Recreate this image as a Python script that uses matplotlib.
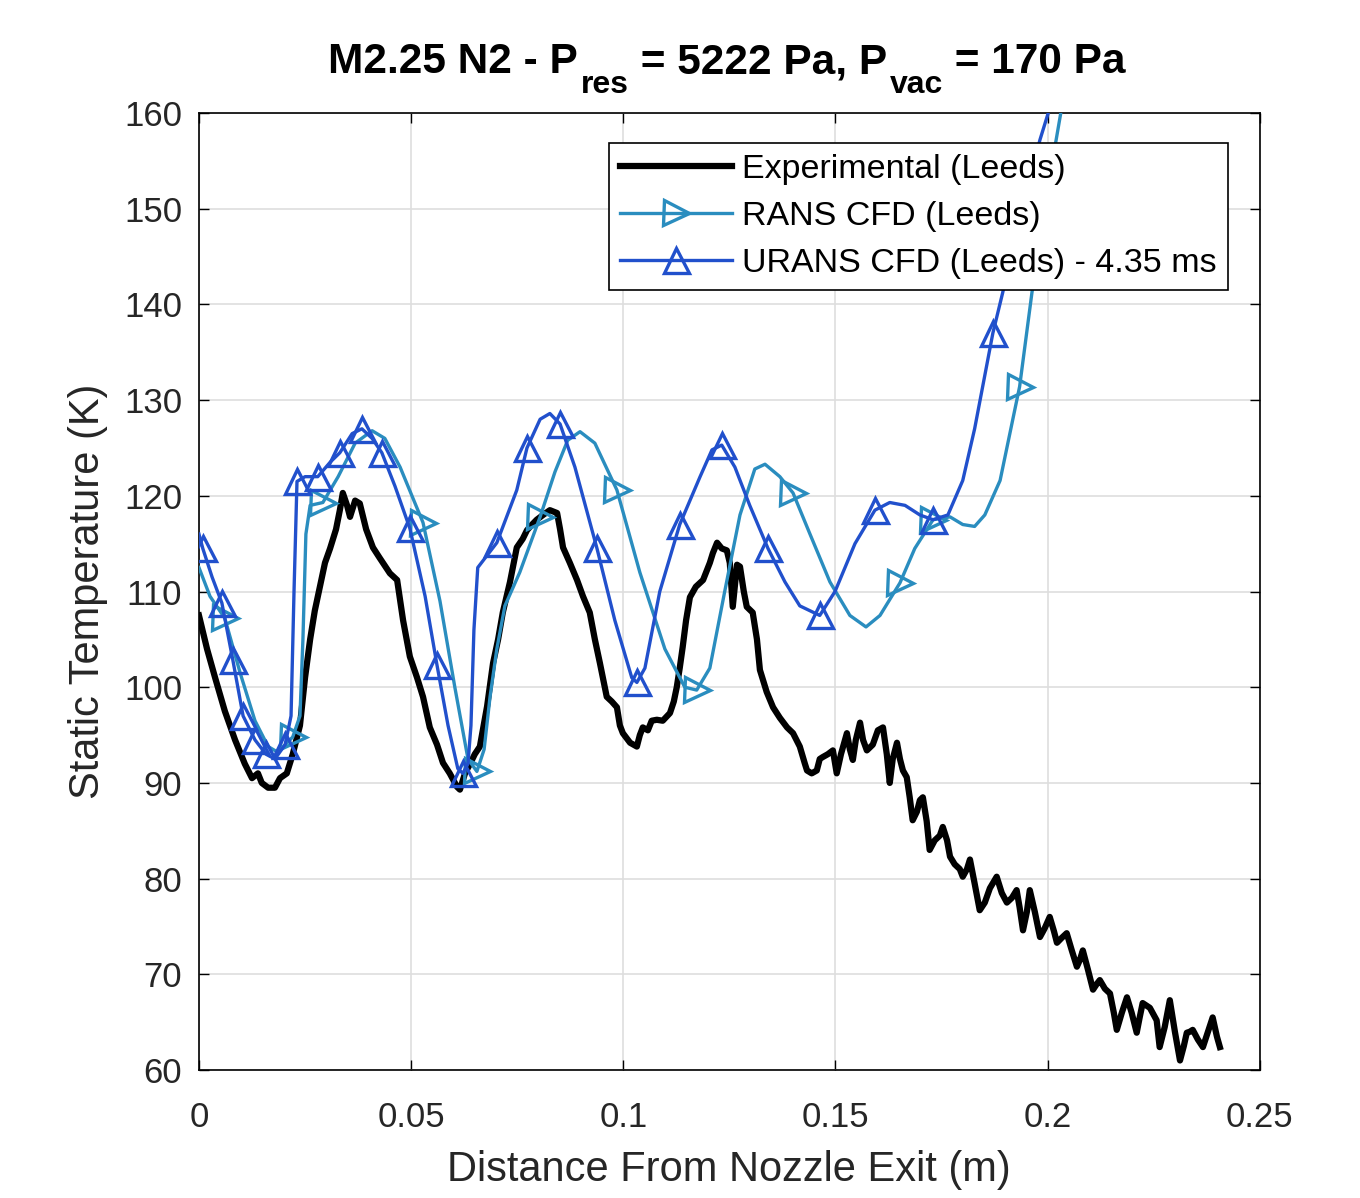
import matplotlib
matplotlib.use("Agg")
import matplotlib.pyplot as plt
from matplotlib.ticker import FuncFormatter

plt.rcParams['font.family'] = ['Liberation Sans', 'DejaVu Sans']

# experimental static temperature (Leeds)
exp_x = [0.0000, 0.0019, 0.0038, 0.0061, 0.0085, 0.0108, 0.0125, 0.0139, 0.0148, 0.0163,
         0.0179, 0.0191, 0.0207, 0.0221, 0.0238, 0.0250, 0.0262, 0.0273, 0.0285, 0.0297,
         0.0309, 0.0323, 0.0332, 0.0339, 0.0349, 0.0356, 0.0368, 0.0379, 0.0394, 0.0410,
         0.0426, 0.0450, 0.0467, 0.0481, 0.0497, 0.0514, 0.0528, 0.0544, 0.0561, 0.0575,
         0.0591, 0.0608, 0.0615, 0.0627, 0.0639, 0.0650, 0.0662, 0.0679, 0.0693, 0.0705,
         0.0716, 0.0733, 0.0749, 0.0763, 0.0773, 0.0785, 0.0796, 0.0811, 0.0827, 0.0844,
         0.0851, 0.0858, 0.0874, 0.0891, 0.0905, 0.0921, 0.0933, 0.0945, 0.0954, 0.0961,
         0.0973, 0.0985, 0.0992, 0.0999, 0.1016, 0.1032, 0.1039, 0.1046, 0.1058, 0.1067,
         0.1079, 0.1093, 0.1110, 0.1119, 0.1126, 0.1133, 0.1140, 0.1148, 0.1157, 0.1171,
         0.1188, 0.1195, 0.1204, 0.1211, 0.1221, 0.1232, 0.1244, 0.1251, 0.1258, 0.1268,
         0.1275, 0.1284, 0.1291, 0.1305, 0.1315, 0.1322, 0.1338, 0.1353, 0.1369, 0.1386,
         0.1400, 0.1416, 0.1428, 0.1433, 0.1444, 0.1456, 0.1463, 0.1470, 0.1482, 0.1494,
         0.1503, 0.1513, 0.1527, 0.1534, 0.1541, 0.1548, 0.1558, 0.1565, 0.1574, 0.1588,
         0.1600, 0.1612, 0.1621, 0.1628, 0.1635, 0.1645, 0.1652, 0.1659, 0.1668, 0.1675,
         0.1682, 0.1692, 0.1699, 0.1706, 0.1715, 0.1722, 0.1734, 0.1746, 0.1753, 0.1763,
         0.1770, 0.1781, 0.1793, 0.1800, 0.1810, 0.1817, 0.1828, 0.1840, 0.1852, 0.1864,
         0.1880, 0.1892, 0.1904, 0.1916, 0.1927, 0.1934, 0.1942, 0.1951, 0.1958, 0.1970,
         0.1982, 0.1993, 0.2005, 0.2015, 0.2022, 0.2033, 0.2045, 0.2057, 0.2069, 0.2076,
         0.2083, 0.2095, 0.2107, 0.2116, 0.2123, 0.2135, 0.2147, 0.2156, 0.2163, 0.2175,
         0.2187, 0.2198, 0.2210, 0.2217, 0.2224, 0.2241, 0.2257, 0.2264, 0.2276, 0.2288,
         0.2300, 0.2312, 0.2321, 0.2328, 0.2335, 0.2342, 0.2354, 0.2366, 0.2378, 0.2389,
         0.2399, 0.2406]
exp_t = [107.5, 104.0, 101.0, 97.5, 94.5, 92.0, 90.5, 91.0, 90.0, 89.5,
         89.5, 90.5, 91.0, 93.0, 96.0, 101.0, 105.0, 108.0, 110.5, 113.0,
         114.5, 116.5, 118.5, 120.3, 119.0, 117.8, 119.5, 119.2, 116.5, 114.6,
         113.5, 111.9, 111.2, 107.0, 103.2, 101.0, 99.0, 95.8, 94.0, 92.1,
         91.0, 89.6, 89.3, 91.0, 92.0, 93.0, 93.8, 98.0, 102.5, 105.0,
         107.8, 111.0, 114.6, 115.5, 116.4, 117.0, 117.5, 118.0, 118.5, 118.2,
         116.5, 114.6, 113.0, 111.2, 109.5, 107.8, 105.0, 102.5, 100.5, 99.0,
         98.5, 97.9, 96.0, 95.2, 94.2, 93.8, 95.0, 95.8, 95.5, 96.5,
         96.6, 96.5, 97.3, 98.5, 100.0, 102.0, 104.2, 107.0, 109.4, 110.5,
         111.2, 112.0, 113.0, 114.0, 115.1, 114.5, 114.3, 113.0, 108.4, 112.8,
         112.6, 110.0, 108.4, 107.8, 105.0, 101.8, 99.5, 97.9, 96.8, 95.8,
         95.2, 93.8, 92.0, 91.3, 91.0, 91.3, 92.5, 92.7, 93.0, 93.4,
         91.0, 93.0, 95.2, 93.5, 92.4, 94.5, 96.3, 94.5, 93.4, 94.0,
         95.5, 95.8, 93.0, 90.0, 92.5, 94.2, 92.5, 91.3, 90.6, 88.5,
         86.1, 87.0, 88.2, 88.5, 86.0, 83.0, 84.0, 84.5, 85.4, 84.0,
         82.3, 81.5, 81.0, 80.2, 81.0, 82.0, 79.5, 76.7, 77.5, 79.0,
         80.2, 78.5, 77.5, 78.0, 78.8, 77.0, 74.6, 76.5, 78.8, 76.5,
         73.9, 74.8, 76.0, 74.5, 73.3, 73.8, 74.3, 72.5, 70.8, 71.5,
         72.5, 70.5, 68.4, 69.0, 69.4, 68.5, 68.0, 66.0, 64.2, 66.0,
         67.6, 66.0, 63.9, 65.5, 67.0, 66.5, 65.2, 62.4, 64.5, 67.3,
         64.0, 61.0, 62.5, 63.9, 64.0, 64.2, 63.2, 62.4, 64.0, 65.5,
         63.5, 62.4]

# RANS CFD (Leeds)
rans_x = [0.0000, 0.0026, 0.0061, 0.0097, 0.0132, 0.0163, 0.0186, 0.0221, 0.0238, 0.0245,
          0.0252, 0.0262, 0.0292, 0.0328, 0.0368, 0.0408, 0.0438, 0.0474, 0.0528, 0.0568,
          0.0603, 0.0634, 0.0655, 0.0672, 0.0686, 0.0702, 0.0721, 0.0756, 0.0804, 0.0839,
          0.0869, 0.0898, 0.0933, 0.0985, 0.1039, 0.1098, 0.1145, 0.1173, 0.1204, 0.1239,
          0.1275, 0.1310, 0.1334, 0.1369, 0.1400, 0.1440, 0.1487, 0.1534, 0.1572, 0.1605,
          0.1652, 0.1687, 0.1730, 0.1770, 0.1800, 0.1828, 0.1852, 0.1888, 0.1911, 0.1934,
          0.1963, 0.1996, 0.2033, 0.2057]
rans_t = [112.5, 109.5, 107.2, 101.5, 96.5, 93.8, 93.2, 94.8, 97.0, 105.0,
          116.0, 119.0, 119.3, 122.0, 125.5, 126.8, 126.0, 123.0, 117.2, 109.0,
          100.0, 92.5, 91.2, 93.5, 99.0, 104.0, 108.5, 112.0, 117.8, 122.5,
          125.8, 126.7, 125.5, 120.6, 112.0, 104.0, 100.0, 99.7, 102.0, 110.0,
          118.0, 122.8, 123.3, 122.0, 120.3, 116.0, 111.0, 107.5, 106.3, 107.5,
          110.9, 114.5, 117.5, 117.8, 117.0, 116.8, 118.0, 121.6, 126.5, 131.4,
          141.2, 151.0, 160.5, 167.0]
rans_marks = [2, 7, 12, 18, 22, 28, 33, 37, 44, 50, 52, 59]

# URANS CFD (Leeds) - 4.35 ms
urans_x = [0.0000, 0.0009, 0.0031, 0.0054, 0.0080, 0.0104, 0.0132, 0.0158, 0.0179, 0.0203,
           0.0217, 0.0224, 0.0231, 0.0250, 0.0280, 0.0309, 0.0332, 0.0361, 0.0384, 0.0408,
           0.0431, 0.0462, 0.0497, 0.0533, 0.0561, 0.0587, 0.0610, 0.0622, 0.0634, 0.0641,
           0.0648, 0.0657, 0.0702, 0.0749, 0.0773, 0.0804, 0.0827, 0.0851, 0.0886, 0.0938,
           0.0980, 0.1020, 0.1032, 0.1051, 0.1086, 0.1133, 0.1181, 0.1209, 0.1232, 0.1263,
           0.1298, 0.1341, 0.1381, 0.1416, 0.1463, 0.1499, 0.1546, 0.1593, 0.1628, 0.1664,
           0.1699, 0.1730, 0.1765, 0.1800, 0.1828, 0.1871, 0.1894, 0.1934, 0.1982, 0.2005,
           0.2029]
urans_t = [116.0, 114.5, 111.5, 108.8, 102.8, 97.0, 94.5, 93.0, 92.5, 94.0,
           97.0, 110.0, 121.5, 122.0, 122.0, 123.5, 124.5, 126.5, 127.0, 126.0,
           124.5, 121.0, 116.6, 109.5, 102.3, 96.0, 91.5, 91.0, 92.0, 96.0,
           106.0, 112.5, 115.1, 120.6, 125.0, 128.0, 128.6, 127.5, 123.0, 114.5,
           107.0, 101.0, 100.5, 102.0, 110.0, 117.0, 122.0, 124.8, 125.3, 123.0,
           119.0, 114.5, 111.0, 108.5, 107.5, 110.0, 115.0, 118.5, 119.3, 119.0,
           118.0, 117.5, 118.0, 121.6, 127.0, 137.0, 141.2, 149.0, 157.2, 160.5,
           164.0]
urans_marks = [1, 3, 4, 5, 6, 7, 9, 12, 14, 16, 18, 20, 22, 24, 27, 32, 34, 37, 39,
               42, 45, 48, 51, 54, 57, 61, 65]

x_ticks = [0, 0.05, 0.1, 0.15, 0.2, 0.25]
t_ticks = [60, 70, 80, 90, 100, 110, 120, 130, 140, 150, 160]

c_exp = 'black'
c_rans = '#2a8dbf'
c_urans = '#2150cc'
txt = '#262626'

fig = plt.figure(figsize=(13.6, 11.98), dpi=100)
ax = fig.add_axes([0.1463, 0.1068, 0.78, 0.7989])

ax.plot(exp_x, exp_t, color=c_exp, lw=4.5, label='Experimental (Leeds)', zorder=3)
ax.plot(rans_x, rans_t, color=c_rans, lw=2.4, marker='>', markevery=rans_marks,
        markersize=18, markerfacecolor='none', markeredgewidth=2.4,
        label='RANS CFD (Leeds)', zorder=4)
ax.plot(urans_x, urans_t, color=c_urans, lw=2.4, marker='^', markevery=urans_marks,
        markersize=18, markerfacecolor='none', markeredgewidth=2.4,
        label='URANS CFD (Leeds) - 4.35 ms', zorder=5)

ax.set_xlim(0, 0.25)
ax.set_ylim(60, 160)
ax.set_xticks(x_ticks)
ax.set_yticks(t_ticks)
ax.xaxis.set_major_formatter(FuncFormatter(lambda v, p: '%g' % v))
ax.grid(True, color='#dedede', lw=1.2)
ax.set_axisbelow(True)
ax.tick_params(direction='in', top=True, right=True, length=7, width=1,
               labelsize=25, colors='black', labelcolor=txt)
ax.tick_params(axis='x', pad=22)
ax.tick_params(axis='y', pad=12)
for s in ax.spines.values():
    s.set_linewidth(1.2)
    s.set_color('black')

ax.set_xlabel('Distance From Nozzle Exit (m)', fontsize=30, color=txt, labelpad=12)
ax.set_ylabel('Static Temperature (K)', fontsize=30, color=txt, labelpad=12)

# title with large, low subscripts (MATLAB tex style)
big = 30.5
small = 23
drop = -13
t1 = fig.text(0.2412, 0.939, 'M2.25 N2 - P', fontsize=big, fontweight='bold',
              ha='left', va='baseline')
t2 = ax.annotate('res', xy=(1, 0), xycoords=(t1, t1), xytext=(2, drop),
                 textcoords='offset points', fontsize=small, fontweight='bold',
                 va='bottom', ha='left', annotation_clip=False)
t3 = ax.annotate(' = 5222 Pa, P', xy=(1, 0), xycoords=(t2, t1), xytext=(0, 0),
                 textcoords='offset points', fontsize=big, fontweight='bold',
                 va='bottom', ha='left', annotation_clip=False)
t4 = ax.annotate('vac', xy=(1, 0), xycoords=(t3, t1), xytext=(2, drop),
                 textcoords='offset points', fontsize=small, fontweight='bold',
                 va='bottom', ha='left', annotation_clip=False)
t5 = ax.annotate(' = 170 Pa', xy=(1, 0), xycoords=(t4, t1), xytext=(0, 0),
                 textcoords='offset points', fontsize=big, fontweight='bold',
                 va='bottom', ha='left', annotation_clip=False)

leg = ax.legend(loc='upper right', bbox_to_anchor=(0.970, 0.969), borderaxespad=0,
                fontsize=24.5, frameon=True, fancybox=False, framealpha=1,
                edgecolor='black', handlelength=3.3, handletextpad=0.3,
                labelspacing=0.48, borderpad=0.32)
leg.get_frame().set_linewidth(1.2)
leg.set_zorder(10)

fig.savefig('out.png', dpi=100, facecolor='white')
